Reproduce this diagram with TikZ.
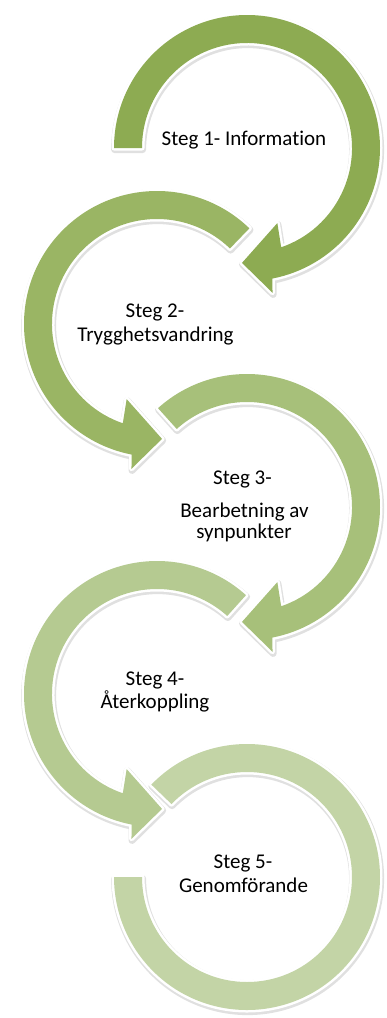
\documentclass[tikz,border=0pt]{standalone}
\usepackage{fontspec}
\setmainfont{Carlito}[Ligatures=NoCommon]
\usetikzlibrary{calc}
\definecolor{steg1}{HTML}{8DAB52}
\definecolor{steg2}{HTML}{9AB564}
\definecolor{steg3}{HTML}{A7C07A}
\definecolor{steg4}{HTML}{B5CA91}
\definecolor{steg5}{HTML}{C3D4A6}

\begin{document}
\begin{tikzpicture}[line cap=round,line join=round,x=1.0pt,y=-1.0pt,
    bendarrow/.style={preaction={draw=black!12,line width=7pt,transform canvas={xshift=0.6pt,yshift=-1.6pt}},
                      preaction={draw=white,line width=5pt}},
    steptext/.style={anchor=base,font=\fontsize{21}{24}\selectfont}]

    \useasboundingbox (0,0) rectangle (386,1018);

    % Steg 1
    \begin{scope}[shift={(247,148)}]
        \fill[bendarrow,steg1] (-180:133) arc[start angle=-180,end angle=79,radius=133]
            -- (80:147) -- (92.5:115) -- (68:81) -- (71:105)
            arc[start angle=71,end angle=-180,radius=105] -- cycle;
    \end{scope}
    % Steg 2
    \begin{scope}[shift={(157,324)},xscale=-1]
        \fill[bendarrow,steg2] (-134:133) arc[start angle=-134,end angle=79,radius=133]
            -- (80:147) -- (92.5:115) -- (68:81) -- (71:105)
            arc[start angle=71,end angle=-134,radius=105] -- cycle;
    \end{scope}
    % Steg 3
    \begin{scope}[shift={(247,507)}]
        \fill[bendarrow,steg3] (-132:133) arc[start angle=-132,end angle=79,radius=133]
            -- (80:147) -- (92.5:115) -- (68:81) -- (71:105)
            arc[start angle=71,end angle=-132,radius=105] -- cycle;
    \end{scope}
    % Steg 4
    \begin{scope}[shift={(157,694)},xscale=-1]
        \fill[bendarrow,steg4] (-132:133) arc[start angle=-132,end angle=79,radius=133]
            -- (80:147) -- (92.5:115) -- (68:81) -- (71:105)
            arc[start angle=71,end angle=-132,radius=105] -- cycle;
    \end{scope}
    % Steg 5
    \begin{scope}[shift={(247,877)}]
        \fill[bendarrow,steg5] (-136:133) arc[start angle=-136,end angle=180,radius=133]
            -- (180:105) arc[start angle=180,end angle=-136,radius=105] -- cycle;
    \end{scope}

    \node[steptext] (t1) at (244,145) {Steg 1- Information};
    \node[steptext] (t2a) at (155,317) {Steg 2-};
    \node[steptext] (t2b) at (155.5,341) {Trygghetsvandring};
    \node[steptext] (t3a) at (242.5,484) {Steg 3-};
    \node[steptext] (t3b) at (244.5,517) {Bearbetning av};
    \node[steptext] (t3c) at (244,538) {synpunkter};
    \node[steptext] (t4a) at (155,685) {Steg 4-};
    \node[steptext] (t4b) at (155,708) {Återkoppling};
    \node[steptext] (t5a) at (243,868) {Steg 5-};
    \node[steptext] (t5b) at (243.5,892) {Genomförande};
\end{tikzpicture}
\end{document}
